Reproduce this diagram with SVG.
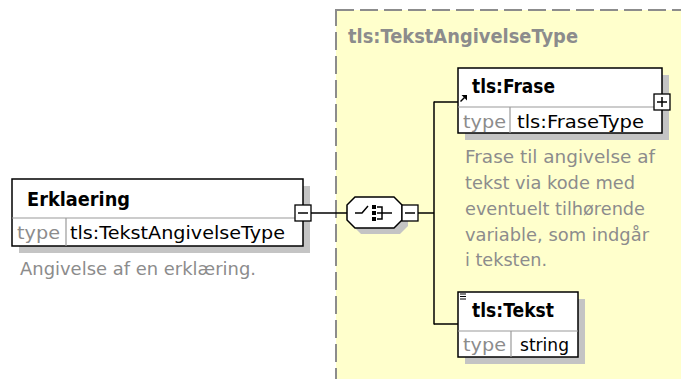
<svg xmlns="http://www.w3.org/2000/svg" width="681" height="379" viewBox="0 0 681 379">
<style>
.bg{fill:#ffffff}
.type-area{fill:#ffffcc;stroke:#8c8c8c;stroke-width:2;stroke-dasharray:18 6}
.shadow{fill:#c4c4c4}
.box{fill:#ffffff;stroke:#000000;stroke-width:1.5}
.div{stroke:#9a9a9a;stroke-width:1.2;fill:none}
.conn{stroke:#000000;stroke-width:1.5;fill:none}
.title{font-family:"DejaVu Sans","Liberation Sans",sans-serif;font-weight:bold;fill:#000000}
.tlabel{font-family:"DejaVu Sans","Liberation Sans",sans-serif;fill:#8c8c8c}
.tval{font-family:"DejaVu Sans","Liberation Sans",sans-serif;fill:#000000}
.desc{font-family:"DejaVu Sans","Liberation Sans",sans-serif;fill:#8c8c8c;font-size:17px}
.btn{fill:#ffffff;stroke:#000000;stroke-width:1.3}
.sym{stroke:#000000;stroke-width:1.5;fill:none}
</style>
<rect class="bg" x="0" y="0" width="681" height="379"/>

<g id="type-TekstAngivelseType">
  <rect class="type-area" x="336" y="10" width="360" height="380"/>
  <text class="title" x="348" y="43" font-size="19" style="fill:#8c8c8c" textLength="230" lengthAdjust="spacingAndGlyphs">tls:TekstAngivelseType</text>
</g>

<g id="connectors">
  <line class="conn" x1="311" y1="213" x2="347" y2="213"/>
  <line class="conn" x1="418" y1="213" x2="434" y2="213"/>
  <line class="conn" x1="434" y1="101.5" x2="434" y2="324.5"/>
  <line class="conn" x1="434" y1="102" x2="458" y2="102"/>
  <line class="conn" x1="434" y1="324" x2="458" y2="324"/>
</g>

<g id="node-Erklaering">
  <rect class="shadow" x="19" y="186" width="291" height="67"/>
  <rect class="box" x="12" y="179" width="291" height="67"/>
  <line class="div" x1="12" y1="218" x2="303" y2="218"/>
  <line class="div" x1="66" y1="218" x2="66" y2="246"/>
  <text class="title" x="27" y="206" font-size="20" textLength="103" lengthAdjust="spacingAndGlyphs">Erklaering</text>
  <text class="tlabel" x="17" y="239" font-size="18" textLength="43" lengthAdjust="spacingAndGlyphs">type</text>
  <text class="tval" x="70" y="239" font-size="18" textLength="215" lengthAdjust="spacingAndGlyphs">tls:TekstAngivelseType</text>
  <rect class="btn" x="295" y="205" width="16" height="16"/>
  <line class="sym" x1="298" y1="213" x2="308" y2="213"/>
  <text class="desc" x="20" y="275" textLength="236" lengthAdjust="spacingAndGlyphs">Angivelse af en erklæring.</text>
</g>

<g id="node-sequence">
  <polygon class="shadow" points="361,203 400,203 408,211 408,226 400,234 361,234 353,226 353,211"/>
  <polygon class="box" points="355,197 394,197 402,205 402,220 394,228 355,228 347,220 347,205"/>
  <polyline class="sym" points="355,213 362,213 368,206"/>
  <rect x="372" y="205" width="4" height="4" fill="#000"/>
  <rect x="372" y="211" width="4" height="4" fill="#000"/>
  <rect x="372" y="217" width="4" height="4" fill="#000"/>
  <polyline class="sym" points="377,207 382,207 382,219 377,219"/>
  <line class="sym" x1="377" y1="213" x2="392" y2="213"/>
  <rect class="btn" x="402" y="205" width="16" height="16"/>
  <line class="sym" x1="405" y1="213" x2="415" y2="213"/>
</g>

<g id="node-Frase">
  <rect class="shadow" x="465" y="75" width="204" height="65"/>
  <rect class="box" x="458" y="68" width="204" height="65"/>
  <line class="div" x1="458" y1="107" x2="662" y2="107"/>
  <line class="div" x1="510" y1="107" x2="510" y2="133"/>
  <text class="title" x="472" y="93" font-size="20" textLength="83" lengthAdjust="spacingAndGlyphs">tls:Frase</text>
  <line class="sym" x1="460.5" y1="101.5" x2="464.5" y2="97.5" stroke-width="1.6"/>
  <polygon points="467,95 467,100.5 461.5,95" fill="#000"/>
  <text class="tlabel" x="463" y="128" font-size="18" textLength="43" lengthAdjust="spacingAndGlyphs">type</text>
  <text class="tval" x="517" y="128" font-size="18" textLength="127" lengthAdjust="spacingAndGlyphs">tls:FraseType</text>
  <rect class="btn" x="654" y="94" width="16" height="16"/>
  <line class="sym" x1="657" y1="102" x2="667" y2="102"/>
  <line class="sym" x1="662" y1="97" x2="662" y2="107"/>
  <text class="desc" x="465" y="163" textLength="190" lengthAdjust="spacingAndGlyphs">Frase til angivelse af</text>
  <text class="desc" x="465" y="189" textLength="170" lengthAdjust="spacingAndGlyphs">tekst via kode med</text>
  <text class="desc" x="465" y="215" textLength="180" lengthAdjust="spacingAndGlyphs">eventuelt tilhørende</text>
  <text class="desc" x="465" y="241" textLength="184" lengthAdjust="spacingAndGlyphs">variable, som indgår</text>
  <text class="desc" x="465" y="266" textLength="82" lengthAdjust="spacingAndGlyphs">i teksten.</text>
</g>

<g id="node-Tekst">
  <rect class="shadow" x="465" y="299" width="120" height="65"/>
  <rect class="box" x="458" y="292" width="120" height="65"/>
  <line class="div" x1="458" y1="331" x2="578" y2="331"/>
  <line class="div" x1="511" y1="331" x2="511" y2="357"/>
  <line x1="460" y1="294" x2="466" y2="294" stroke="#000" stroke-width="1"/>
  <line x1="460" y1="296.5" x2="466" y2="296.5" stroke="#000" stroke-width="1"/>
  <line x1="460" y1="299" x2="466" y2="299" stroke="#000" stroke-width="1"/>
  <text class="title" x="472" y="317" font-size="20" textLength="82" lengthAdjust="spacingAndGlyphs">tls:Tekst</text>
  <text class="tlabel" x="463" y="351" font-size="18" textLength="43" lengthAdjust="spacingAndGlyphs">type</text>
  <text class="tval" x="520" y="351" font-size="18" textLength="49" lengthAdjust="spacingAndGlyphs">string</text>
</g>
</svg>
